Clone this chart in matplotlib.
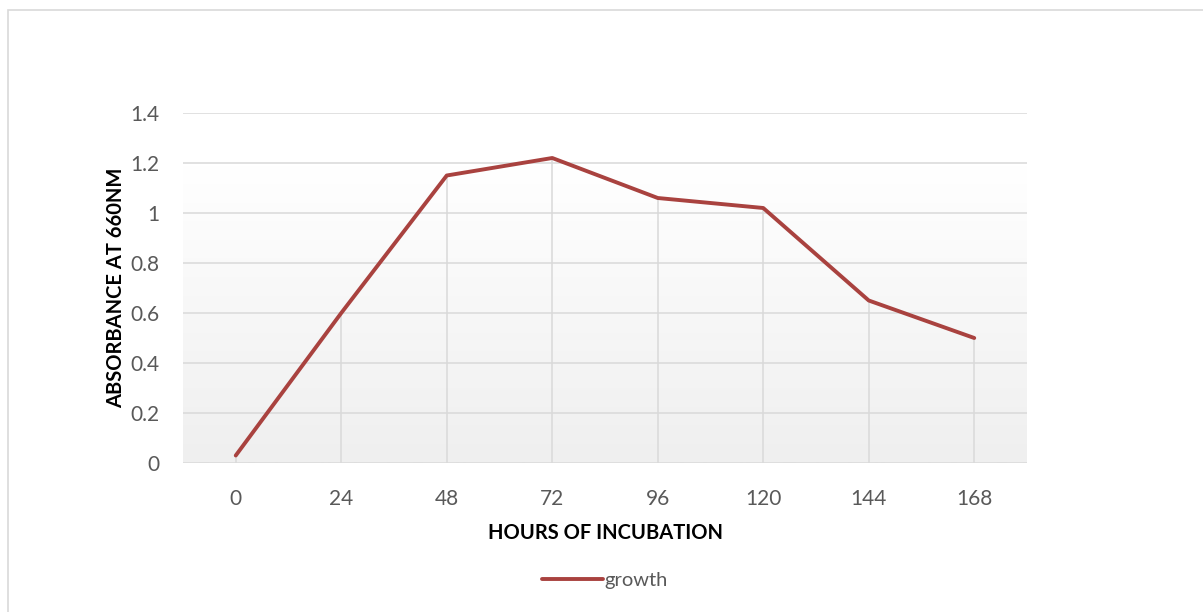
import numpy as np
import matplotlib.pyplot as plt
from matplotlib.patches import Rectangle
from matplotlib.colors import LinearSegmentedColormap

plt.rcParams['font.family'] = ['Lato', 'DejaVu Sans']

hours = ['0', '24', '48', '72', '96', '120', '144', '168']
growth = [0.03, 0.60, 1.15, 1.22, 1.06, 1.02, 0.65, 0.50]
yticks = [0, 0.2, 0.4, 0.6, 0.8, 1, 1.2, 1.4]

fig = plt.figure(figsize=(12.03, 6.12), dpi=100)
# light frame around the chart area
fig.patches.append(Rectangle((8 / 1203, -0.1), 1.2, (612 - 10) / 612 + 0.1,
                             transform=fig.transFigure, fill=False,
                             edgecolor='#d9d9d9', linewidth=1.2))

ax = fig.add_axes([183 / 1203, 1 - 463 / 612, (1027 - 183) / 1203, (463 - 113) / 612])
x = np.arange(len(hours))

# vertical gradient fill of the plot area
grad = np.linspace(0, 1, 256).reshape(-1, 1)
bg = LinearSegmentedColormap.from_list('bg', [(0, '#ffffff'), (0.15, '#ffffff'), (1, '#efefef')])
ax.imshow(grad, extent=(-0.5, 7.5, 0, 1.4), aspect='auto', origin='upper',
          cmap=bg, zorder=0)

for v in yticks:
    ax.axhline(v, color='#d9d9d9', linewidth=1.1, zorder=1)
# drop lines from each point to the axis
ax.vlines(x, 0, growth, color='#d9d9d9', linewidth=1.1, zorder=1)

ax.plot(x, growth, color='#a9423f', linewidth=2.8, solid_capstyle='round',
        label='growth', zorder=3)

ax.set_xlim(-0.5, 7.5)
ax.set_ylim(0, 1.4)
ax.set_xticks(x)
ax.set_xticklabels(hours)
ax.set_yticks(yticks)
ax.set_yticklabels(['0', '0.2', '0.4', '0.6', '0.8', '1', '1.2', '1.4'])
ax.tick_params(length=0, labelsize=15, colors='#595959')
ax.tick_params(axis='x', pad=19)
ax.tick_params(axis='y', pad=17)
for s in ax.spines.values():
    s.set_visible(False)

ax.set_xlabel('HOURS OF INCUBATION', fontsize=14.5, fontweight='bold', labelpad=10)
ax.set_ylabel('ABSORBANCE AT 660NM', fontsize=14.5, fontweight='bold', labelpad=3)

ax.legend(loc='upper center', bbox_to_anchor=(0.5, -0.26), frameon=False,
          fontsize=14.5, labelcolor='#595959', handlelength=3.0, handletextpad=0.1)

fig.savefig('out.png', dpi=100)
